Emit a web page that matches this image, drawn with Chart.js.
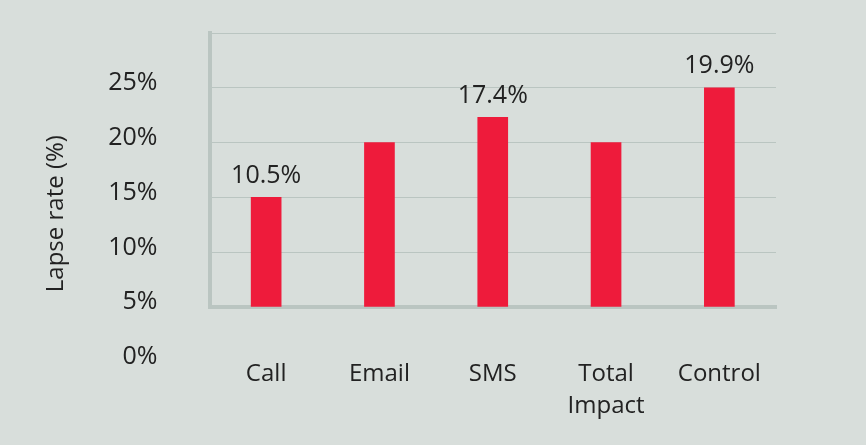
<!DOCTYPE html>
<html>
<head>
<meta charset="utf-8">
<script src="https://cdn.jsdelivr.net/npm/chart.js@4.4.1/dist/chart.umd.min.js"></script>
<style>
  html, body { margin: 0; padding: 0; background: #d8dedb; }
  #wrap { width: 866px; height: 445px; position: relative; }
</style>
</head>
<body>
<div id="wrap"><canvas id="lapse-chart"></canvas></div>
<script>
const categories = ['Call', 'Email', 'SMS', ['Total', 'Impact'], 'Control'];
const lapseRates = [10, 15, 17.3, 15, 20];
const valueLabels = ['10.5%', '', '17.4%', '', '19.9%'];
const yTicks = [0, 5, 10, 15, 20, 25];

const FONT = "'Open Sans', sans-serif";
const TEXT = '#222222';
const GRID = '#bac5c1';

// value labels above the bars
const barLabels = {
  id: 'barLabels',
  afterDatasetsDraw(chart) {
    const ctx = chart.ctx;
    const meta = chart.getDatasetMeta(0);
    ctx.save();
    ctx.font = '25px ' + FONT;
    ctx.fillStyle = TEXT;
    ctx.textAlign = 'center';
    ctx.textBaseline = 'middle';
    meta.data.forEach((bar, i) => {
      if (valueLabels[i]) ctx.fillText(valueLabels[i], bar.x, bar.y - 22);
    });
    ctx.restore();
  }
};

new Chart(document.getElementById('lapse-chart'), {
  type: 'bar',
  data: {
    labels: categories,
    datasets: [{
      data: lapseRates,
      backgroundColor: '#ee1b3b',
      barThickness: 30
    }]
  },
  options: {
    responsive: true,
    maintainAspectRatio: false,
    animation: false,
    layout: { padding: { left: 38, right: 90, top: 33, bottom: 24 } },
    plugins: {
      legend: { display: false },
      tooltip: { enabled: false }
    },
    scales: {
      x: {
        // chart.js counts tick padding twice, so fix the height here
        afterFit: (axis) => { axis.height = 114; },
        grid: { display: false, drawTicks: false },
        border: { color: GRID, width: 4 },
        ticks: {
          color: TEXT,
          padding: 52,
          font: { family: FONT, size: 24, lineHeight: 1.3 }
        }
      },
      y: {
        min: 0,
        max: 25,
        afterBuildTicks: (axis) => { axis.ticks = yTicks.map(v => ({ value: v })); },
        afterFit: (axis) => {
          axis.width = 171.5;
          axis.paddingTop = 0;
          axis.paddingBottom = 0;
        },
        grid: { color: GRID, lineWidth: 1, drawTicks: false },
        border: { color: GRID, width: 4 },
        ticks: {
          color: TEXT,
          padding: 52,
          labelOffset: 50,
          font: { family: FONT, size: 25 },
          callback: (v) => v + '%'
        },
        title: {
          display: true,
          text: 'Lapse rate (%)' + '\u00a0'.repeat(14),
          color: TEXT,
          padding: { top: 4, bottom: 34 },
          font: { family: FONT, size: 24 }
        }
      }
    }
  },
  plugins: [barLabels]
});
</script>
</body>
</html>
